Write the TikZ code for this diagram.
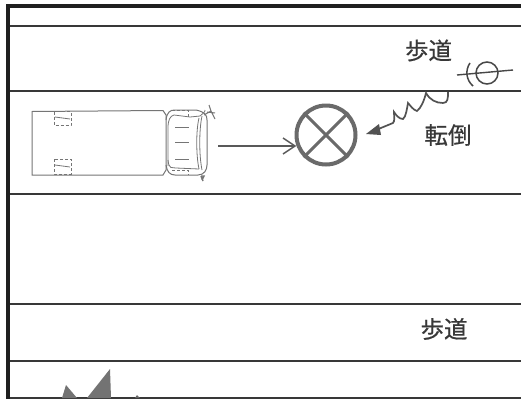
\documentclass[tikz,border=0pt]{standalone}
\usepackage{fontspec}
\newfontfamily\cjk[FakeBold=0.5]{Noto Sans CJK JP}
\definecolor{roadc}{HTML}{383838}
\definecolor{truckc}{HTML}{757575}
\definecolor{markc}{HTML}{6A6A6A}
\tikzset{
  road/.style={draw=roadc,line width=2.3pt},
  edge/.style={draw=black!88,line width=3.4pt},
  truck/.style={draw=truckc,line width=1pt},
  truckthin/.style={draw=truckc,line width=0.8pt},
  wheel/.style={draw=truckc,line width=0.8pt,densely dashed},
  label/.style={font=\cjk\fontsize{23.5}{25}\selectfont,text=black!78,inner sep=0pt}
}
\begin{document}
\begin{tikzpicture}[x=1pt,y=-1pt]
\useasboundingbox (0,0) rectangle (521,399);
\fill[white] (0,0) rectangle (521,399);
% road lines
\draw[road] (8,26) -- (521,26);
\draw[road] (8,91) -- (521,91);
\draw[road,line width=1.9pt] (8,194) -- (521,194);
\draw[road] (8,304) -- (521,304);
\draw[road] (8,361) -- (521,361);
\draw[road] (8,398) -- (521,398);
\draw[edge] (521,6) -- (8,6) -- (8,399);
% truck bed
\draw[truck] (32,111.5) -- (163,110.5) -- (166,115) -- (166,170) -- (163,175) -- (32,175) -- cycle;
\draw[wheel] (54,111.5) rectangle (71,125);
\draw[wheel] (54,159) rectangle (71,174);
\draw[truckthin] (55,117) -- (70,119);
\draw[truckthin] (55,165) -- (70,167);
% cab
\draw[truck] (166,120) .. controls (167,112) and (170,110) .. (175,110) -- (196,110) .. controls (205,112) and (207,115) .. (207,120) -- (207,165) .. controls (207,170) and (204,175) .. (198,175) -- (175,175) .. controls (170,175) and (167,172) .. (166,165);
\draw[truckthin] (168,128) -- (168,166) (168,128) .. controls (168,120) and (170,116) .. (174,115) -- (190,117) -- (200,116) .. controls (205,112) and (206,110) .. (205,110);
\draw[truckthin] (168,160) .. controls (169,170) and (172,167) .. (176,168) -- (199,169);
\draw[truckthin] (199,118) .. controls (196,130) and (196,155) .. (199,169);
\draw[truckthin] (202,116) .. controls (199,130) and (199,155) .. (202,170);
\draw[wheel] (172,110) -- (188,110) -- (188,117) (172,170) -- (188,170) -- (188,175);
\draw[truck] (175,127) -- (189,127) (175,142.5) -- (189,142.5) (175,159) -- (189,159);
% mirrors
\draw[truck] (204,115) -- (211,111) -- (209,105) (211,111) -- (215,119) (207,112) -- (215,113);
\draw[truck,line width=1.4pt] (201,176) -- (203,181) (201,176) -- (204,176) -- (202,180);
% direction arrow
\node[draw=markc,line width=4pt,circle,minimum size=59pt,inner sep=0pt] (cross) at (326,135) {};
\draw[markc,line width=3pt] (cross.north west) -- (cross.south east) (cross.north east) -- (cross.south west);
\coordinate (truckfront) at (218,146);
\draw[draw=black!65,line width=1.4pt] (truckfront) -- (294,146);
\draw[draw=black!65,line width=1.4pt] (283,138) -- (295,146) -- (283,154);
% wavy arrow
\coordinate (fallstart) at (448,92);
\draw[draw=black!68,line width=1.7pt] (fallstart) .. controls (448,98) and (448,103) .. (443,103) .. controls (436,103) and (430,100) .. (426,93) .. controls (424,101) and (421,108) .. (417,111) .. controls (413,110) and (410,105) .. (408,103) .. controls (407,108) and (406,117) .. (403,119) .. controls (399,119) and (396,115) .. (394,112) .. controls (394,117) and (395,121) .. (393,123) -- (376,130);
\fill[black!68] (366,134) -- (379,124) -- (381,135) -- cycle;
% pedestrian
\node[draw=black!72,line width=1.5pt,circle,minimum size=22pt,inner sep=0pt] (ped) at (487,73) {};
\draw[black!72,line width=1.4pt] (457,75) -- (513,70);
\draw[black!72,line width=1.5pt] (470,63) .. controls (465,70) and (466,80) .. (473,86);
% labels
\node[label] (walk1) at (428.5,50.5) {歩道};
\node[label] (fall) at (448,135) {転倒};
\node[label] (walk2) at (444,329) {歩道};
% bottom shape
\fill[black!55] (62,398) -- (66,385) -- (77,398) -- (87,398) -- (110,369) -- (111,398) -- cycle;
\fill[black!60] (135,398) -- (137,395) -- (140,398) -- cycle;
\end{tikzpicture}
\end{document}
